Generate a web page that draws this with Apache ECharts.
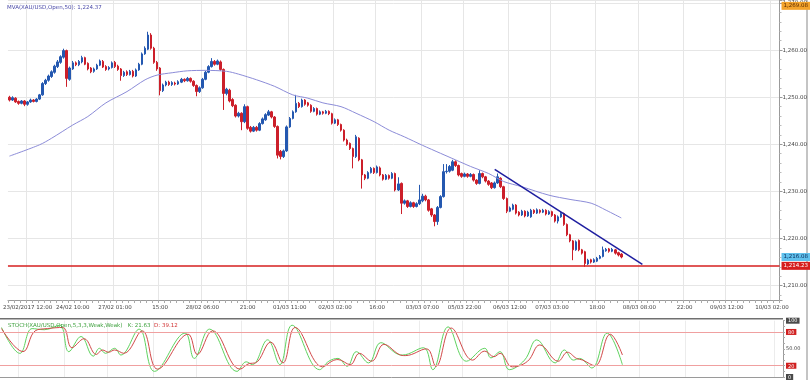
<!DOCTYPE html>
<html><head><meta charset="utf-8">
<script src="https://cdn.jsdelivr.net/npm/echarts@6/dist/echarts.min.js"></script>
<style>html,body{margin:0;padding:0;background:#fff}#c{width:810px;height:380px}</style>
</head><body><div id="c"></div><script>
const TOTAL_SLOTS = 256;
const tickLabels = ["23/02/2017 12:00","24/02 10:00","27/02 01:00","15:00","28/02 06:00","21:00","01/03 11:00","02/03 02:00","16:00","03/03 07:00","05/03 22:00","06/03 12:00","07/03 03:00","18:00","08/03 08:00","22:00","09/03 12:00","10/03 02:00"];
const tickIndex = [6,21,35,50,64,79,93,108,122,137,151,166,180,195,209,224,238,253];

const opens = [
1250.0,1249.4,1249.8,1249.1,1248.7,1249.2,1248.5,1249.0,1249.4,1249.1,
1249.6,1250.5,1252.9,1253.6,1254.4,1255.3,1256.5,1257.4,1258.5,1259.9,
1253.8,1256.0,1257.3,1256.9,1257.5,1258.4,1257.2,1256.2,1255.5,1256.0,
1256.8,1257.6,1256.5,1256.0,1256.3,1257.4,1256.6,1256.0,1254.6,1255.4,
1254.8,1255.5,1254.5,1255.8,1257.0,1259.2,1260.2,1263.2,1260.4,1257.4,
1256.2,1251.4,1252.6,1253.2,1252.7,1253.0,1252.8,1253.2,1253.8,1253.5,
1254.0,1253.4,1252.5,1251.2,1252.0,1253.8,1255.3,1256.5,1257.6,1257.0,
1257.5,1255.9,1250.8,1251.5,1249.5,1248.3,1246.0,1246.6,1244.8,1248.0,
1243.6,1242.8,1243.6,1243.0,1244.4,1245.2,1246.2,1246.9,1245.8,1243.8,
1238.5,1237.4,1238.6,1243.7,1245.5,1246.9,1248.7,1248.0,1249.4,1248.8,
1248.3,1247.0,1247.6,1246.4,1246.9,1246.6,1247.0,1246.5,1244.5,1245.2,
1244.2,1243.0,1240.9,1240.2,1239.1,1237.4,1241.3,1236.7,1233.5,1232.8,
1234.0,1234.9,1234.0,1235.0,1233.5,1232.6,1233.4,1232.8,1233.8,1230.3,
1231.7,1227.5,1228.0,1226.8,1227.6,1226.8,1227.4,1228.0,1229.0,1228.2,
1226.3,1225.0,1223.6,1226.6,1228.9,1234.2,1234.3,1234.5,1236.3,1235.5,
1233.8,1233.2,1233.7,1233.2,1233.6,1232.4,1231.7,1233.8,1233.1,1232.2,
1231.8,1230.8,1231.8,1232.8,1231.0,1228.5,1225.8,1226.2,1227.1,1225.6,
1225.0,1225.8,1224.8,1224.6,1226.0,1225.4,1226.0,1225.6,1226.0,1225.2,
1225.7,1225.0,1223.7,1224.6,1225.3,1223.0,1220.8,1219.5,1217.6,1219.6,
1217.6,1217.2,1214.6,1215.5,1215.0,1215.2,1215.8,1216.2,1217.4,1217.8,
1217.3,1217.6,1217.0,1216.7];
const closes = [
1249.4,1249.9,1249.0,1248.7,1249.2,1248.5,1249.0,1249.4,1249.1,1249.6,
1250.5,1252.9,1253.6,1254.5,1255.4,1256.6,1257.5,1258.6,1259.9,1254.0,
1256.2,1257.3,1256.9,1257.6,1258.4,1257.0,1256.0,1255.4,1256.0,1256.8,
1257.7,1256.4,1255.9,1256.3,1257.3,1256.5,1255.9,1254.6,1255.3,1254.8,
1255.5,1254.5,1255.8,1257.0,1259.2,1260.4,1263.2,1260.4,1257.4,1256.0,
1251.4,1252.6,1253.2,1252.7,1253.1,1252.8,1253.3,1253.8,1253.5,1254.0,
1253.4,1252.5,1251.2,1252.0,1253.8,1255.3,1256.5,1257.6,1257.0,1257.7,
1255.9,1250.8,1251.7,1249.2,1248.2,1246.0,1246.6,1244.8,1248.0,1243.4,
1242.8,1243.6,1243.0,1244.4,1245.4,1246.3,1246.9,1245.8,1243.8,1237.7,
1237.4,1238.6,1243.7,1245.5,1246.9,1248.7,1248.0,1249.4,1248.5,1248.3,
1247.0,1247.6,1246.4,1246.9,1246.6,1247.0,1246.5,1244.5,1245.2,1244.2,
1243.0,1240.9,1240.0,1239.1,1237.4,1241.6,1236.7,1233.5,1232.8,1234.0,
1234.9,1234.0,1235.2,1233.5,1232.6,1233.4,1232.8,1233.8,1230.3,1231.6,
1227.5,1228.0,1226.8,1227.6,1226.8,1227.4,1228.2,1229.0,1228.2,1226.0,
1225.0,1223.6,1226.6,1228.9,1234.2,1234.3,1235.3,1236.3,1235.5,1233.5,
1233.2,1233.7,1233.2,1233.6,1232.4,1231.7,1233.8,1233.1,1232.2,1231.5,
1230.8,1231.8,1233.1,1231.0,1228.5,1225.8,1226.5,1227.1,1225.4,1225.0,
1225.8,1224.8,1225.6,1226.0,1225.5,1226.1,1225.6,1226.0,1225.2,1225.7,
1224.9,1223.7,1224.6,1225.3,1223.0,1220.8,1219.5,1217.6,1219.3,1217.6,
1216.9,1214.7,1215.4,1215.0,1215.5,1215.8,1216.2,1217.6,1217.7,1217.3,
1217.7,1216.9,1216.5,1216.08];
const lows = [
1249.1,1249.2,1248.8,1248.4,1248.5,1248.1,1248.2,1248.8,1248.9,1248.9,
1249.4,1250.3,1252.6,1253.3,1254.1,1255.0,1256.2,1257.1,1258.2,1252.2,
1253.5,1255.8,1256.6,1256.6,1257.2,1256.8,1255.7,1255.1,1255.2,1255.8,
1256.6,1256.2,1255.6,1255.7,1256.1,1256.2,1255.6,1253.5,1254.3,1254.5,
1254.6,1254.2,1254.3,1255.6,1256.8,1259.0,1260.0,1260.1,1257.1,1255.6,
1250.4,1251.1,1252.3,1252.4,1252.4,1252.5,1252.6,1253.0,1253.2,1253.3,
1253.1,1252.2,1250.2,1250.9,1251.8,1253.6,1255.1,1256.3,1256.7,1256.8,
1255.6,1247.3,1250.4,1248.9,1247.9,1245.7,1245.7,1243.0,1244.5,1243.1,
1242.5,1242.6,1242.7,1242.8,1244.2,1245.0,1246.0,1245.5,1243.5,1237.0,
1236.8,1237.1,1238.4,1243.5,1245.3,1246.7,1247.7,1247.8,1248.2,1248.0,
1246.7,1246.8,1246.1,1246.2,1246.3,1246.4,1246.2,1244.2,1244.3,1243.9,
1242.7,1240.6,1239.7,1238.8,1234.9,1237.1,1236.4,1230.6,1232.4,1232.6,
1233.8,1233.7,1233.8,1233.2,1232.3,1232.4,1232.5,1232.6,1230.0,1230.1,
1225.2,1227.2,1226.5,1226.6,1226.5,1226.6,1227.1,1227.7,1227.9,1225.7,
1224.6,1222.6,1222.9,1226.4,1228.7,1233.8,1234.0,1234.3,1235.2,1233.2,
1232.9,1233.0,1232.9,1233.0,1232.1,1231.4,1231.5,1232.8,1231.9,1231.2,
1230.5,1230.6,1231.6,1230.7,1228.2,1225.4,1225.6,1226.0,1225.1,1224.7,
1224.8,1224.5,1224.6,1224.4,1225.2,1225.2,1225.3,1225.4,1224.9,1225.0,
1224.6,1223.4,1223.2,1224.4,1222.7,1220.5,1219.2,1215.4,1217.4,1217.3,
1216.6,1214.0,1214.4,1214.7,1214.8,1215.0,1215.6,1216.0,1217.2,1217.0,
1217.1,1216.6,1216.2,1215.8];
const highs = [
1250.3,1250.2,1250.0,1249.3,1249.4,1249.4,1249.2,1249.7,1249.6,1249.8,
1250.7,1253.2,1253.9,1254.8,1255.7,1256.9,1257.9,1258.9,1260.3,1260.1,
1256.5,1257.7,1257.6,1257.9,1258.8,1258.6,1257.4,1256.4,1256.3,1257.1,
1258.0,1257.9,1256.8,1256.6,1257.6,1257.7,1256.9,1256.2,1255.6,1255.7,
1255.8,1255.8,1256.1,1257.3,1259.5,1260.8,1263.9,1263.6,1260.7,1257.7,
1256.4,1252.9,1253.5,1253.5,1253.4,1253.3,1253.6,1254.1,1254.0,1254.3,
1254.2,1253.6,1252.7,1252.3,1254.1,1255.6,1256.8,1258.3,1257.9,1258.0,
1257.8,1256.1,1252.0,1251.8,1249.8,1248.5,1246.9,1246.8,1248.5,1248.2,
1243.9,1243.9,1243.9,1244.7,1245.7,1246.6,1247.3,1247.1,1246.0,1244.0,
1238.8,1238.9,1244.0,1245.8,1247.2,1250.5,1249.0,1249.7,1249.6,1249.0,
1248.5,1247.9,1247.8,1247.2,1247.1,1247.3,1247.2,1246.7,1245.5,1245.4,
1244.4,1243.2,1241.2,1240.4,1239.3,1242.0,1241.5,1236.9,1233.7,1234.3,
1235.2,1235.1,1235.5,1235.3,1233.7,1233.7,1233.6,1234.1,1234.0,1233.0,
1231.9,1228.3,1228.2,1227.9,1227.8,1227.7,1231.4,1229.5,1229.3,1228.4,
1226.5,1225.2,1226.9,1229.2,1235.8,1235.8,1235.6,1236.7,1236.6,1235.7,
1234.0,1234.0,1233.9,1233.9,1233.8,1232.6,1234.5,1234.0,1233.3,1232.4,
1232.0,1232.1,1233.8,1233.0,1231.2,1228.7,1226.8,1227.4,1227.3,1225.8,
1226.1,1226.0,1225.9,1226.3,1226.2,1226.4,1226.2,1226.3,1226.2,1226.0,
1225.9,1225.2,1224.9,1225.6,1225.5,1223.2,1221.0,1219.7,1219.6,1219.8,
1217.8,1217.4,1215.7,1215.7,1215.8,1216.1,1216.5,1218.3,1218.0,1218.0,
1218.0,1217.8,1217.2,1216.9];

// 50-period moving average, read at points along the curve: [bar index, value]
const maPoints = [[0,1237.5],[10,1239.9],[14,1241.3],[21,1244.1],[26,1245.9],[32,1248.8],[39,1251.2],[45,1253.7],[49,1254.7],[54,1255.2],[59,1255.6],[65,1255.7],[72,1255.5],[76,1254.9],[82,1253.7],[88,1252.3],[94,1250.5],[99,1249.8],[104,1248.8],[110,1248.0],[115,1246.6],[121,1244.8],[126,1243.0],[131,1241.6],[137,1239.8],[143,1238.1],[148,1236.7],[153,1235.3],[159,1233.8],[164,1232.1],[170,1231.0],[179,1229.2],[186,1228.3],[193,1227.5],[198,1226.0],[203,1224.37]];
const trendPoints = [[161,1234.7],[210,1214.5]];
const supportLevel = 1214.2, supportText = "1,214.23";
const lastPrice = 1216.08, lastText = "1,216.08";
const topMarker = 1269.4, topText = "1,269.08";
const maValueText = "1,224.37";

// Stochastic turning points [bar index, value]
const stochK = [[0,88],[6,42],[10,86],[14,84],[19,92],[22,45],[26,72],[30,37],[32,51],[34,42],[37,51],[39,39],[45,85],[50,10],[60,78],[63,33],[68,85],[77,10],[80,27],[82,22],[87,66],[91,22],[95,92],[104,13],[107,28],[110,33],[113,19],[116,45],[120,25],[124,61],[129,42],[131,39],[138,52],[141,13],[146,89],[152,28],[158,51],[160,34],[163,45],[166,13],[171,30],[175,66],[181,25],[184,48],[187,30],[189,33],[193,16],[198,78],[203,21.7]];
const stochD = [[0,86],[7,45],[11,82],[15,86],[20,88],[23,52],[27,68],[31,40],[33,48],[35,44],[37,48],[40,42],[46,82],[51,14],[61,76],[64,40],[69,82],[78,14],[81,24],[83,25],[88,62],[92,25],[96,88],[105,18],[108,28],[110,31],[114,22],[117,42],[121,28],[125,58],[130,40],[132,38],[139,50],[142,19],[147,87],[154,30],[158,46],[161,36],[163,42],[167,18],[172,28],[176,57],[182,28],[185,44],[188,33],[190,30],[194,20],[199,76],[203,39.12]];
const stochKText = "21.63", stochDText = "39.12";
const stochLevels = [80, 20];

const cats = [];
for (let i = 0; i < TOTAL_SLOTS; i++) cats.push('');
tickIndex.forEach((idx, k) => { cats[idx] = tickLabels[k]; });
const isTick = (i) => cats[i] !== '';
const candleData = opens.map((o, i) => [o, closes[i], lows[i], highs[i]]);
const fmt = v => v.toLocaleString('en-US', {minimumFractionDigits: 2, maximumFractionDigits: 2});
const FONT = 'DejaVu Sans';
const UP = '#2458b0', DOWN = '#cc1f2a';

const chart = echarts.init(document.getElementById('c'), null, {renderer: 'canvas'});
const boxLabel = (txt, bg, fg) => ({show: true, position: 'end', distance: 2, formatter: txt, backgroundColor: bg, color: fg, fontSize: 5.5, fontFamily: FONT, padding: [1, 2, 1, 2], opacity: 1});

chart.setOption({
  animation: false,
  backgroundColor: '#ffffff',
  title: [
    {text: 'MVA(XAU/USD,Open,50): ' + maValueText, left: 2, top: 0, textStyle: {fontSize: 5.5, color: '#4a4aa8', fontWeight: 'normal', fontFamily: FONT}},
    {text: '{g|STOCH(XAU/USD,Open,5,3,3,Weak,Weak)   K: ' + stochKText + '}  {r|D: ' + stochDText + '}', left: 3, top: 318, textStyle: {fontSize: 5.5, fontWeight: 'normal', fontFamily: FONT, rich: {g: {color: '#3a9f3a', fontSize: 5.5, fontFamily: FONT}, r: {color: '#d03030', fontSize: 5.5, fontFamily: FONT}}}}
  ],
  grid: [
    {left: 0, right: 27, top: 0, height: 300},
    {left: 0, right: 27, top: 320.7, height: 56.6}
  ],
  xAxis: [
    {type: 'category', gridIndex: 0, data: cats, boundaryGap: true,
     axisLine: {show: true, lineStyle: {color: '#9a9a9a'}},
     axisTick: {show: true, interval: 1, length: 3, lineStyle: {color: '#aaa'}},
     axisLabel: {interval: (i) => isTick(i), fontSize: 5.5, color: '#444', margin: 5, fontFamily: FONT},
     splitLine: {show: true, interval: (i) => isTick(i), lineStyle: {color: '#e6e6e6', width: 1}}},
    {type: 'category', gridIndex: 1, data: cats, boundaryGap: true,
     axisLine: {show: true, lineStyle: {color: '#9a9a9a'}},
     axisTick: {show: false}, axisLabel: {show: false},
     splitLine: {show: true, interval: (i) => isTick(i), lineStyle: {color: '#ececec', width: 1}}}
  ],
  yAxis: [
    {type: 'value', gridIndex: 0, position: 'right', min: 1206.95, max: 1270.64, minInterval: 10, maxInterval: 10,
     axisLine: {show: true, lineStyle: {color: '#9a9a9a'}},
     axisTick: {show: true, length: 3, lineStyle: {color: '#999'}},
     minorTick: {show: true, splitNumber: 5, length: 2, lineStyle: {color: '#bbb'}},
     axisLabel: {fontSize: 5.5, color: '#444', margin: 3, fontFamily: FONT,
       formatter: v => (Math.abs(v / 10 - Math.round(v / 10)) < 1e-6) ? fmt(v) : ''},
     splitLine: {show: true, lineStyle: {color: '#e6e6e6'}}},
    {type: 'value', gridIndex: 1, position: 'right', min: 0, max: 100, interval: 10,
     axisLine: {show: true, lineStyle: {color: '#9a9a9a'}},
     axisTick: {show: true, length: 2, lineStyle: {color: '#aaa'}},
     axisLabel: {fontSize: 5, color: '#444', margin: 3, fontFamily: FONT,
       formatter: v => v === 100 ? '{d|100}' : v === 80 ? '{r|80}' : v === 50 ? '50.00' : v === 20 ? '{r|20}' : v === 0 ? '{d|0}' : '',
       rich: {d: {backgroundColor: '#4a4a4a', color: '#fff', padding: [1, 2, 0, 2], fontSize: 5, fontFamily: FONT},
              r: {backgroundColor: '#d02020', color: '#fff', padding: [1, 2, 0, 2], fontSize: 5, fontFamily: FONT}}},
     splitLine: {show: false}}
  ],
  series: [
    {type: 'candlestick', xAxisIndex: 0, yAxisIndex: 0, data: candleData, barWidth: 2,
     itemStyle: {color: UP, color0: DOWN, borderColor: UP, borderColor0: DOWN, borderWidth: 1},
     markLine: {silent: true, symbol: ['none', 'none'], animation: false,
       data: [
         {yAxis: supportLevel, lineStyle: {color: '#d61f1f', width: 1.5, type: 'solid'}, label: boxLabel(supportText, '#d61f1f', '#fff')},
         {yAxis: lastPrice, lineStyle: {color: 'rgba(255,255,255,0)', width: 0}, label: boxLabel(lastText, '#5fc0ec', '#0a2a5a')},
         {yAxis: topMarker, lineStyle: {color: 'rgba(255,255,255,0)', width: 0}, label: boxLabel(topText, '#f3a32b', '#5a2a00')}
       ]}},
    {type: 'line', xAxisIndex: 0, yAxisIndex: 0, data: maPoints, showSymbol: false, smooth: 0.3,
     lineStyle: {color: '#8c8cd8', width: 1}},
    {type: 'line', xAxisIndex: 0, yAxisIndex: 0, data: trendPoints, showSymbol: false,
     lineStyle: {color: '#1e1ea0', width: 1.5}},
    {type: 'line', xAxisIndex: 1, yAxisIndex: 1, data: stochK, showSymbol: false, smooth: 0.4,
     lineStyle: {color: '#5fd35f', width: 1},
     markLine: {silent: true, symbol: ['none', 'none'], label: {show: false},
       data: stochLevels.map(v => ({yAxis: v})), lineStyle: {color: '#f0a0a0', width: 1, type: 'solid'}}},
    {type: 'line', xAxisIndex: 1, yAxisIndex: 1, data: stochD, showSymbol: false, smooth: 0.4,
     lineStyle: {color: '#d24a4a', width: 1}}
  ],
  graphic: [
    {type: 'rect', shape: {x: 0, y: 318, width: 783, height: 1.5}, style: {fill: '#707070'}, silent: true},
    {type: 'rect', shape: {x: 806, y: 0, width: 2, height: 380}, style: {fill: '#c4c4c4'}, silent: true}
  ]
});
</script></body></html>
